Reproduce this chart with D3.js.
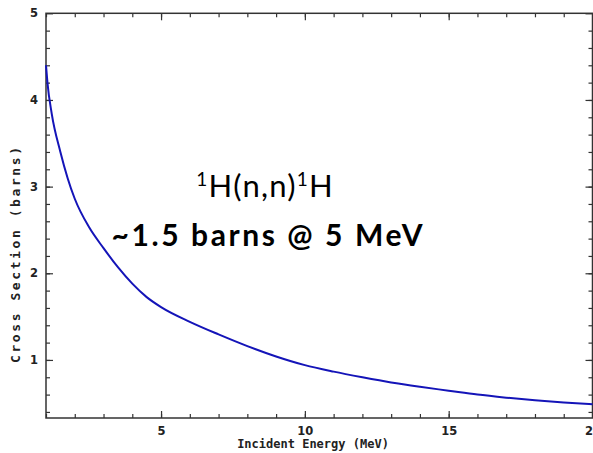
<!DOCTYPE html>
<meta charset="utf-8">
<title>1H(n,n)1H cross section</title>
<style>
  body { margin: 0; background: #fff; }
  .axis text { font: bold 11.5px "DejaVu Sans", sans-serif; fill: #222; }
  .axis line { stroke: #333; stroke-width: 1.2; }
  .axis path { display: none; }
  .frame { fill: none; stroke: #333; stroke-width: 1.5; }
  .curve { fill: none; stroke: #1414b8; stroke-width: 2; }
  .label { font: bold 12px "DejaVu Sans Mono", monospace; fill: #222; }
  .note { font-family: Lato, "Open Sans", sans-serif; fill: #000; text-anchor: middle; }
</style>
<body>
<script src="https://cdnjs.cloudflare.com/ajax/libs/d3/7.8.5/d3.min.js"></script>
<script>
// incident energy (MeV) and elastic cross section (barns)
var energy = [1, 1.05, 1.2, 1.5, 1.75, 2, 2.5, 3, 3.5, 4, 4.5, 5, 6, 7, 8, 9, 10, 11, 12, 13, 14, 15, 16, 17, 18, 19, 20];
var crossSection = [4.40, 4.20, 3.84, 3.40, 3.10, 2.86, 2.53, 2.29, 2.07, 1.88, 1.725, 1.61, 1.44, 1.295, 1.16, 1.04, 0.94, 0.865, 0.80, 0.74, 0.69, 0.645, 0.60, 0.565, 0.535, 0.51, 0.49];

var xMajorTicks = [5, 10, 15, 20];
var xMinorTicks = d3.range(1, 21);
var yMajorTicks = [1, 2, 3, 4, 5];
var yMinorTicks = d3.range(4, 50, 2).map(function(d) { return d / 10; });

var W = 593, H = 453;
var margin = {top: 13.3, right: 0.5, bottom: 35, left: 46};

var svg = d3.select("body").append("svg")
    .attr("width", W)
    .attr("height", H);

var x = d3.scaleLinear().domain([1, 20]).range([margin.left, W - margin.right]);
var y = d3.scaleLinear().domain([0.33, 5]).range([H - margin.bottom, margin.top]);

var x0 = x.range()[0], x1 = x.range()[1], y0 = y.range()[0], y1 = y.range()[1];

// inward ticks on all four sides
svg.append("g").attr("class", "axis")
    .attr("transform", "translate(0," + y0 + ")")
    .call(d3.axisBottom(x).tickValues(xMinorTicks).tickSize(-4).tickFormat(""));
svg.append("g").attr("class", "axis")
    .attr("transform", "translate(0," + y0 + ")")
    .call(d3.axisBottom(x).tickValues(xMajorTicks).tickSize(-7).tickPadding(9).tickFormat(d3.format("d")));
svg.append("g").attr("class", "axis")
    .attr("transform", "translate(0," + y1 + ")")
    .call(d3.axisTop(x).tickValues(xMinorTicks).tickSize(-4).tickFormat(""));
svg.append("g").attr("class", "axis")
    .attr("transform", "translate(0," + y1 + ")")
    .call(d3.axisTop(x).tickValues(xMajorTicks).tickSize(-7).tickFormat(""));

svg.append("g").attr("class", "axis")
    .attr("transform", "translate(" + x0 + ",0)")
    .call(d3.axisLeft(y).tickValues(yMinorTicks).tickSize(-4).tickFormat(""));
svg.append("g").attr("class", "axis")
    .attr("transform", "translate(" + x0 + ",0)")
    .call(d3.axisLeft(y).tickValues(yMajorTicks).tickSize(-7).tickPadding(8).tickFormat(d3.format("d")));
svg.append("g").attr("class", "axis")
    .attr("transform", "translate(" + x1 + ",0)")
    .call(d3.axisRight(y).tickValues(yMinorTicks).tickSize(-4).tickFormat(""));
svg.append("g").attr("class", "axis")
    .attr("transform", "translate(" + x1 + ",0)")
    .call(d3.axisRight(y).tickValues(yMajorTicks).tickSize(-7).tickFormat(""));

svg.append("rect")
    .attr("class", "frame")
    .attr("x", x0).attr("y", y1)
    .attr("width", x1 - x0).attr("height", y0 - y1);

var line = d3.line()
    .x(function(d, i) { return x(energy[i]); })
    .y(function(d) { return y(d); })
    .curve(d3.curveMonotoneX);

svg.append("path")
    .attr("class", "curve")
    .attr("d", line(crossSection));

// axis titles
svg.append("text")
    .attr("class", "label")
    .attr("x", 313).attr("y", 448)
    .attr("text-anchor", "middle")
    .text("Incident Energy (MeV)");

svg.append("text")
    .attr("class", "label")
    .attr("transform", "translate(20,255) rotate(-90)")
    .attr("text-anchor", "middle")
    .attr("textLength", 216)
    .attr("lengthAdjust", "spacing")
    .style("font-size", "13px")
    .text("Cross Section (barns)");

// annotation
var t1 = svg.append("text")
    .attr("class", "note")
    .attr("x", 265).attr("y", 197)
    .style("font-size", "31px")
    .style("letter-spacing", "1.2px");
t1.append("tspan").attr("dy", -11).style("font-size", "19px").text("1");
t1.append("tspan").attr("dy", 11).text("H(n,n)");
t1.append("tspan").attr("dy", -11).style("font-size", "19px").text("1");
t1.append("tspan").attr("dy", 11).text("H");

svg.append("text")
    .attr("class", "note")
    .attr("x", 267).attr("y", 246)
    .attr("textLength", 311)
    .attr("lengthAdjust", "spacing")
    .style("font-size", "30px")
    .style("font-weight", "bold")
    .text("~1.5 barns @ 5 MeV");
</script>
</body>
